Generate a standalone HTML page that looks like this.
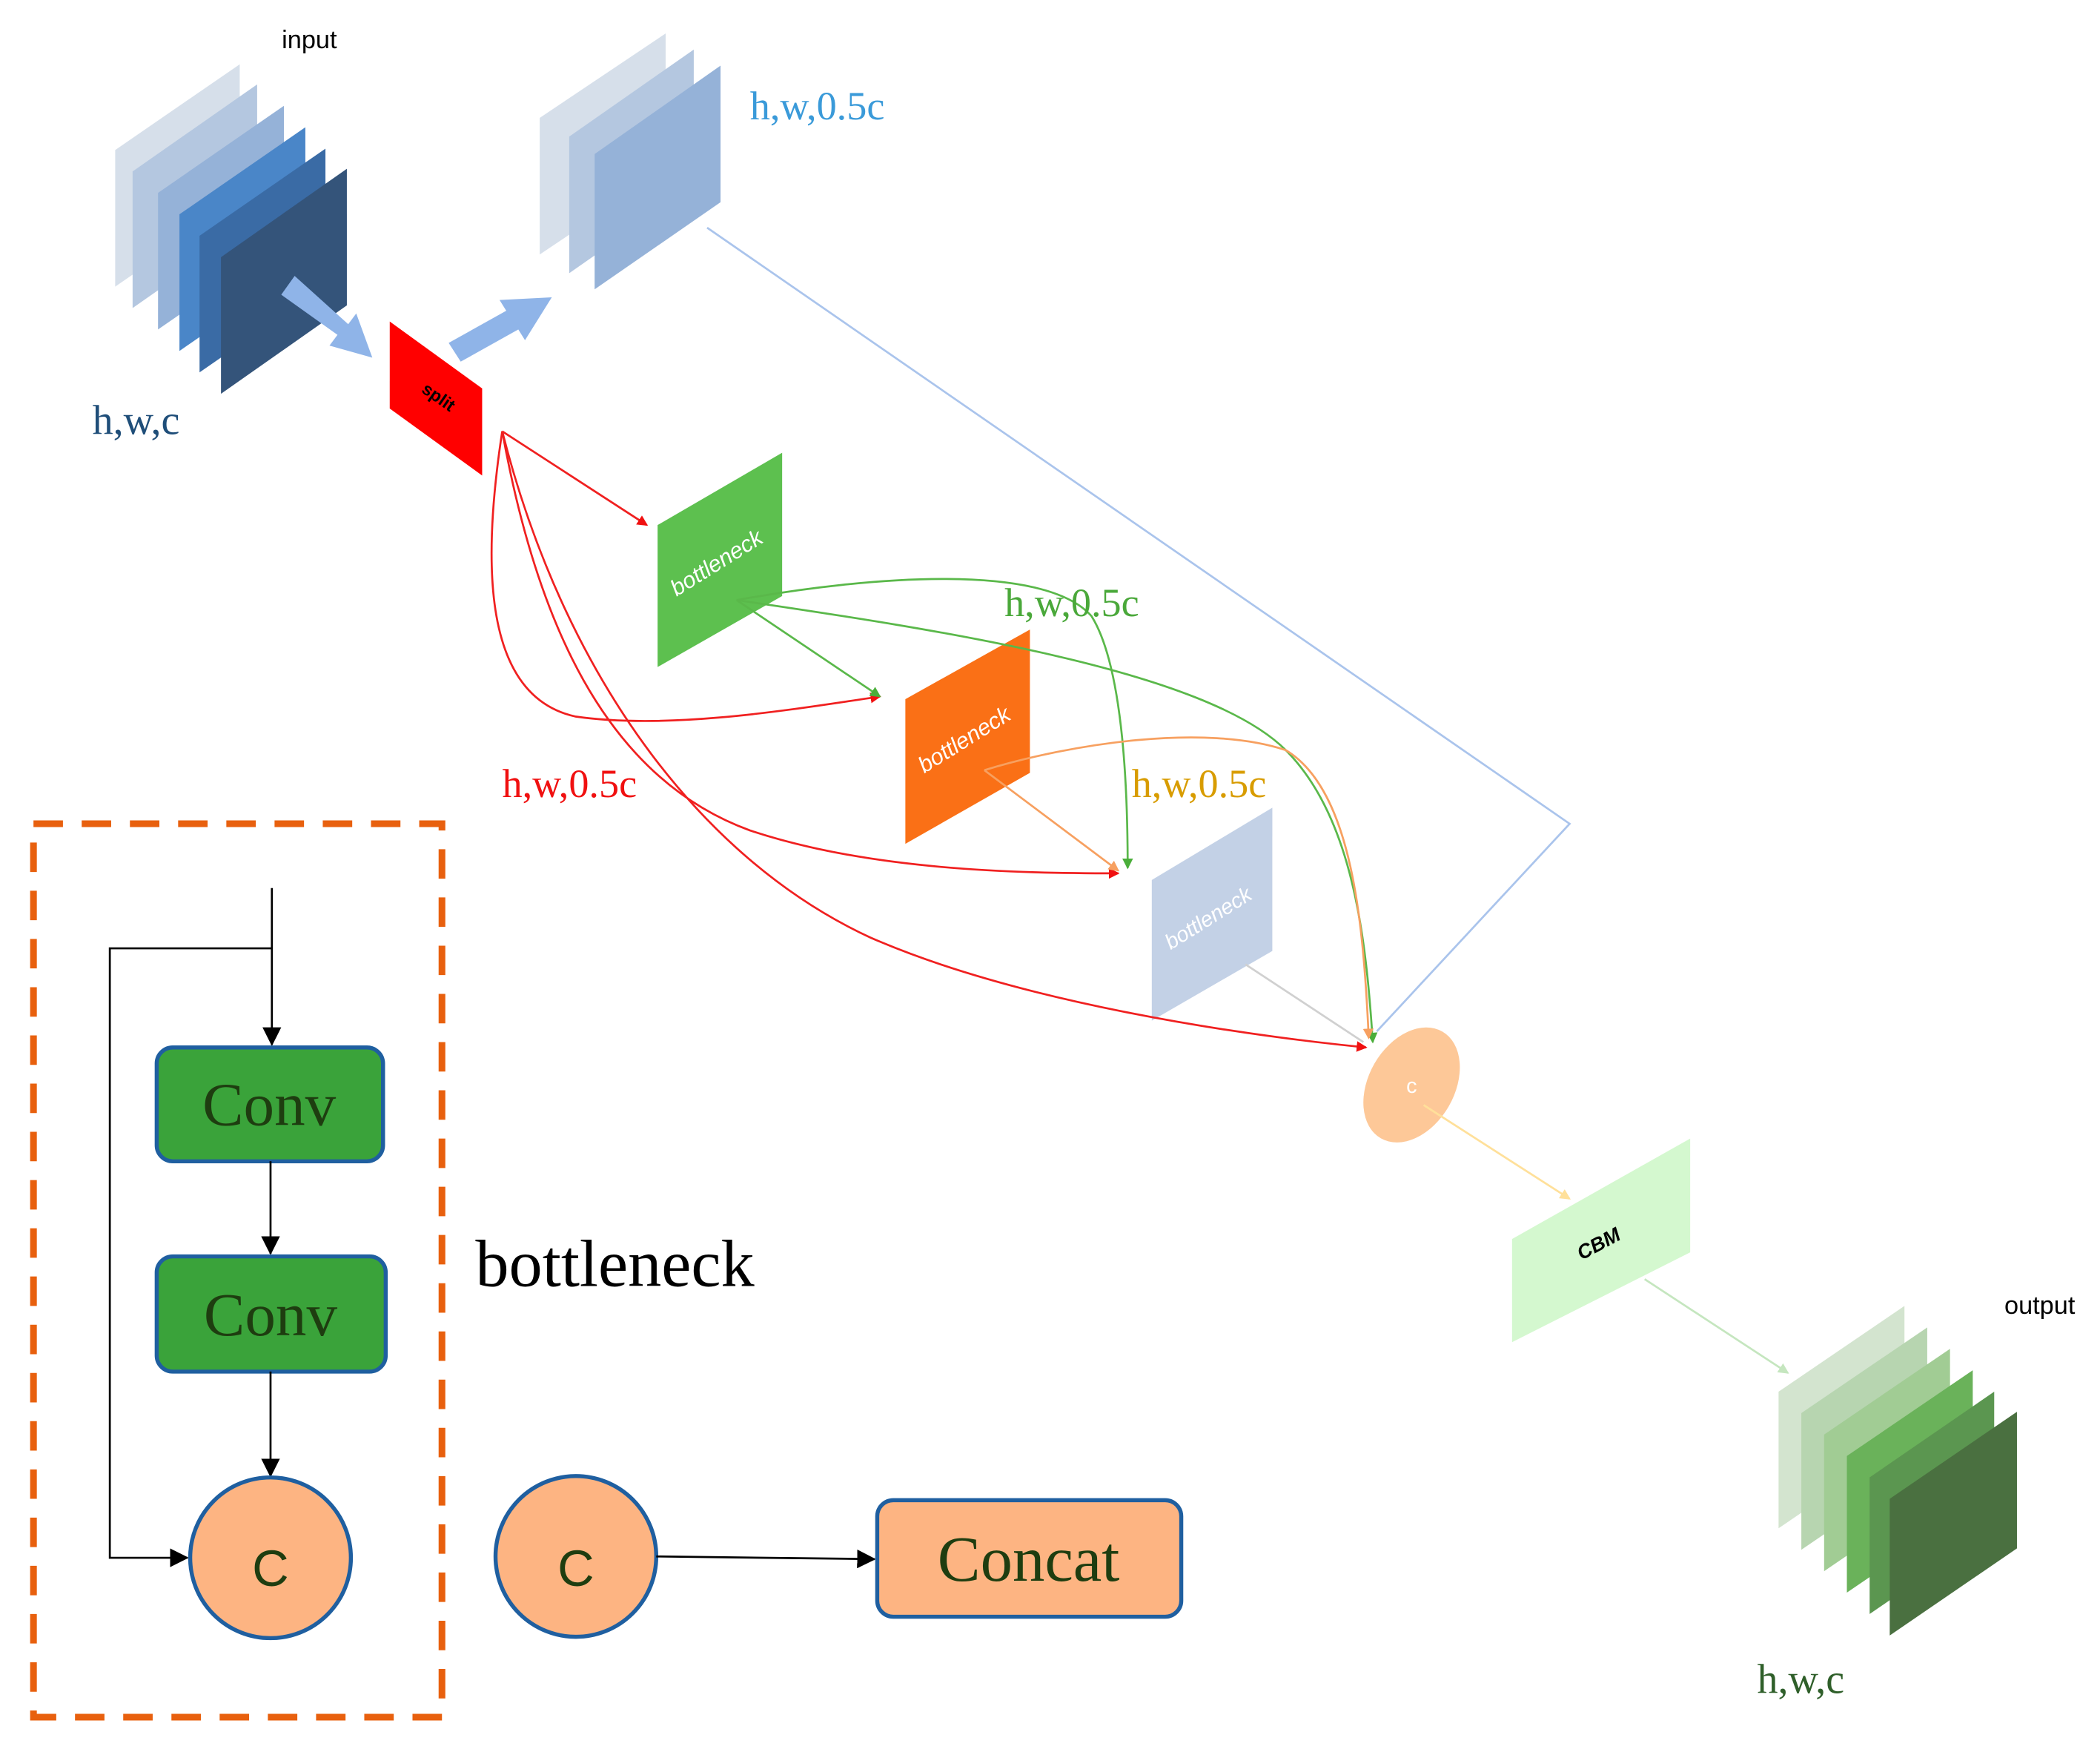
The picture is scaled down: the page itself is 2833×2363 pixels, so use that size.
<!DOCTYPE html>
<html><head><meta charset="utf-8"><style>html,body{margin:0;padding:0;background:#fff}svg{display:block}</style></head>
<body>
<svg width="2833" height="2363" viewBox="0 0 1568 1308" preserveAspectRatio="none" xmlns="http://www.w3.org/2000/svg">
<defs>
<marker id="ar" markerWidth="8" markerHeight="8" refX="7" refY="4" orient="auto" markerUnits="userSpaceOnUse"><path d="M0,0 L8,4 L0,8z" fill="#f01010"/></marker>
<marker id="ag" markerWidth="8" markerHeight="8" refX="7" refY="4" orient="auto" markerUnits="userSpaceOnUse"><path d="M0,0 L8,4 L0,8z" fill="#4aae3a"/></marker>
<marker id="ao" markerWidth="8" markerHeight="8" refX="7" refY="4" orient="auto" markerUnits="userSpaceOnUse"><path d="M0,0 L8,4 L0,8z" fill="#f7a060"/></marker>
<marker id="ay" markerWidth="8" markerHeight="8" refX="7" refY="4" orient="auto" markerUnits="userSpaceOnUse"><path d="M0,0 L8,4 L0,8z" fill="#ffe09a"/></marker>
<marker id="alg" markerWidth="8" markerHeight="8" refX="7" refY="4" orient="auto" markerUnits="userSpaceOnUse"><path d="M0,0 L8,4 L0,8z" fill="#c5e6bf"/></marker>
<marker id="ak" markerWidth="14" markerHeight="14" refX="13" refY="7" orient="auto" markerUnits="userSpaceOnUse"><path d="M0,0 L14,7 L0,14z" fill="#000"/></marker>
</defs>
<g font-family="Liberation Serif, serif">
<g>
<polygon points="86,112 179,48 179,150 86,214" fill="#d6dfea"/>
<polygon points="99,128 192,63 192,165 99,230" fill="#b4c7e0"/>
<polygon points="118,144 212,79 212,181 118,246" fill="#95b2d8"/>
<polygon points="134,160 228,95 228,197 134,262" fill="#4a86c8"/>
<polygon points="149,176 243,111 243,213 149,278" fill="#3a6ba5"/>
<polygon points="165,192 259,126 259,228 165,294" fill="#34547a"/>
</g>
<text x="231" y="36" font-family="Liberation Sans, sans-serif" font-size="19" text-anchor="middle">input</text>
<text x="69" y="324" font-size="31" fill="#1f4e79">h,w,c</text>
<polygon points="210,220 220,206 260,242 266,234 278,267 246,258 252,250" fill="#8fb4e8"/>
<polygon points="335,256 378,232 373,224 412,222 392,254 387,246 344,270" fill="#8fb4e8"/>
<polygon points="291,240 360,290 360,355 291,305" fill="#ff0000"/>
<text x="325" y="300" font-family="Liberation Sans, sans-serif" font-size="13" font-weight="bold" transform="rotate(35 325 300)" text-anchor="middle">split</text>
<polygon points="403,88 497,25 497,127 403,190" fill="#d6dfea"/>
<polygon points="425,102 518,37 518,139 425,204" fill="#b4c7e0"/>
<polygon points="444,115 538,49 538,151 444,216" fill="#95b2d8"/>
<text x="560" y="89" font-size="30" fill="#3a9ad9">h,w,0.5c</text>
<polyline points="528,170 1172,615 1028,770" fill="none" stroke="#aac4ec" stroke-width="1.5"/>
<polygon points="491,392 584,338 584,445 491,498" fill="#5dc04f"/>
<text x="538" y="425" font-family="Liberation Sans, sans-serif" font-style="italic" font-size="17" fill="#fff" transform="rotate(-32 538 425)" text-anchor="middle">bottleneck</text>
<polygon points="676,522 769,470 769,577 676,630" fill="#fa7016"/>
<text x="723" y="557" font-family="Liberation Sans, sans-serif" font-style="italic" font-size="17" fill="#fff" transform="rotate(-32 723 557)" text-anchor="middle">bottleneck</text>
<polygon points="860,657 950,603 950,710 860,762" fill="#c3d1e6"/>
<text x="905" y="690" font-family="Liberation Sans, sans-serif" font-style="italic" font-size="16" fill="#fff" transform="rotate(-32 905 690)" text-anchor="middle">bottleneck</text>
<g fill="none" stroke="#f02020" stroke-width="1.5">
<path d="M375,322 L483,392" marker-end="url(#ar)"/>
<path d="M375,322 C360,420 360,520 430,535 C500,545 590,530 657,520" marker-end="url(#ar)"/>
<path d="M375,322 C400,460 450,580 560,620 C650,650 760,652 835,652" marker-end="url(#ar)"/>
<path d="M375,322 C420,500 520,640 650,700 C760,748 920,772 1020,782" marker-end="url(#ar)"/>
</g>
<g fill="none" stroke="#5ab84a" stroke-width="1.5">
<path d="M550,448 L657,520" marker-end="url(#ag)"/>
<path d="M550,448 C650,430 780,420 815,460 C840,500 842,600 842,648" marker-end="url(#ag)"/>
<path d="M550,448 C700,470 900,500 960,560 C1010,610 1020,700 1025,778" marker-end="url(#ag)"/>
</g>
<g fill="none" stroke="#f7a060" stroke-width="1.5">
<path d="M735,575 L835,650" marker-end="url(#ao)"/>
<path d="M735,575 C800,555 900,540 960,560 C1010,590 1018,690 1022,775" marker-end="url(#ao)"/>
</g>
<line x1="930" y1="720" x2="1018" y2="778" stroke="#d0d0d0" stroke-width="1.5"/>
<text x="750" y="460" font-size="30" fill="#4aa83a">h,w,0.5c</text>
<text x="845" y="595" font-size="30" fill="#d89c00">h,w,0.5c</text>
<text x="375" y="595" font-size="30" fill="#f01010">h,w,0.5c</text>
<ellipse cx="1054" cy="810" rx="32" ry="46" transform="rotate(30 1054 810)" fill="#fdc898"/>
<text x="1054" y="816" font-family="Liberation Sans, sans-serif" font-size="16" fill="#fff" text-anchor="middle">c</text>
<line x1="1063" y1="825" x2="1172" y2="895" stroke="#ffe09a" stroke-width="1.5" marker-end="url(#ay)"/>
<polygon points="1129,925 1262,850 1262,935 1129,1002" fill="#d4f8cf"/>
<text x="1196" y="933" font-family="Liberation Sans, sans-serif" font-style="italic" font-weight="bold" font-size="15" transform="rotate(-28 1196 933)" text-anchor="middle">CBM</text>
<line x1="1228" y1="955" x2="1335" y2="1025" stroke="#c5e6bf" stroke-width="1.5" marker-end="url(#alg)"/>
<polygon points="1328,1039 1422,975 1422,1077 1328,1141" fill="#d3e4cf"/>
<polygon points="1345,1055 1439,991 1439,1093 1345,1157" fill="#b7d5b0"/>
<polygon points="1362,1071 1456,1007 1456,1109 1362,1173" fill="#a1cc94"/>
<polygon points="1379,1087 1473,1023 1473,1125 1379,1189" fill="#6ab25a"/>
<polygon points="1396,1103 1489,1039 1489,1141 1396,1205" fill="#5b9650"/>
<polygon points="1411,1119 1506,1054 1506,1156 1411,1221" fill="#4a7040"/>
<text x="1523" y="981" font-family="Liberation Sans, sans-serif" font-size="19" text-anchor="middle">output</text>
<text x="1312" y="1264" font-size="31" fill="#2f5f2a">h,w,c</text>
<rect x="25" y="615" width="305" height="667" fill="none" stroke="#e8600e" stroke-width="5" stroke-dasharray="22,14"/>
<line x1="203" y1="663" x2="203" y2="780" stroke="#000" stroke-width="1.5" marker-end="url(#ak)"/>
<polyline points="203,708 82,708 82,1163 140,1163" fill="none" stroke="#000" stroke-width="1.5" marker-end="url(#ak)"/>
<rect x="117" y="782" width="169" height="85" rx="12" fill="#3aa33a" stroke="#1f5fa0" stroke-width="3"/>
<text x="201" y="840" font-size="46" fill="#1e3d10" text-anchor="middle">Conv</text>
<line x1="202" y1="867" x2="202" y2="936" stroke="#000" stroke-width="1.5" marker-end="url(#ak)"/>
<rect x="117" y="938" width="171" height="86" rx="12" fill="#3aa33a" stroke="#1f5fa0" stroke-width="3"/>
<text x="202" y="997" font-size="46" fill="#1e3d10" text-anchor="middle">Conv</text>
<line x1="202" y1="1024" x2="202" y2="1102" stroke="#000" stroke-width="1.5" marker-end="url(#ak)"/>
<circle cx="202" cy="1163" r="60" fill="#fdb482" stroke="#1f5fa0" stroke-width="3"/>
<text x="202" y="1184" font-family="Liberation Sans, sans-serif" font-size="38" fill="#1e3d10" text-anchor="middle">C</text>
<text x="355" y="960" font-size="50" fill="#000">bottleneck</text>
<circle cx="430" cy="1162" r="60" fill="#fdb482" stroke="#1f5fa0" stroke-width="3"/>
<text x="430" y="1184" font-family="Liberation Sans, sans-serif" font-size="38" fill="#1e3d10" text-anchor="middle">C</text>
<line x1="490" y1="1162" x2="653" y2="1164" stroke="#000" stroke-width="1.5" marker-end="url(#ak)"/>
<rect x="655" y="1120" width="227" height="87" rx="12" fill="#fdb482" stroke="#1f5fa0" stroke-width="3"/>
<text x="768" y="1180" font-size="48" fill="#1e3d10" text-anchor="middle">Concat</text>
</g>
</svg>
</body></html>
